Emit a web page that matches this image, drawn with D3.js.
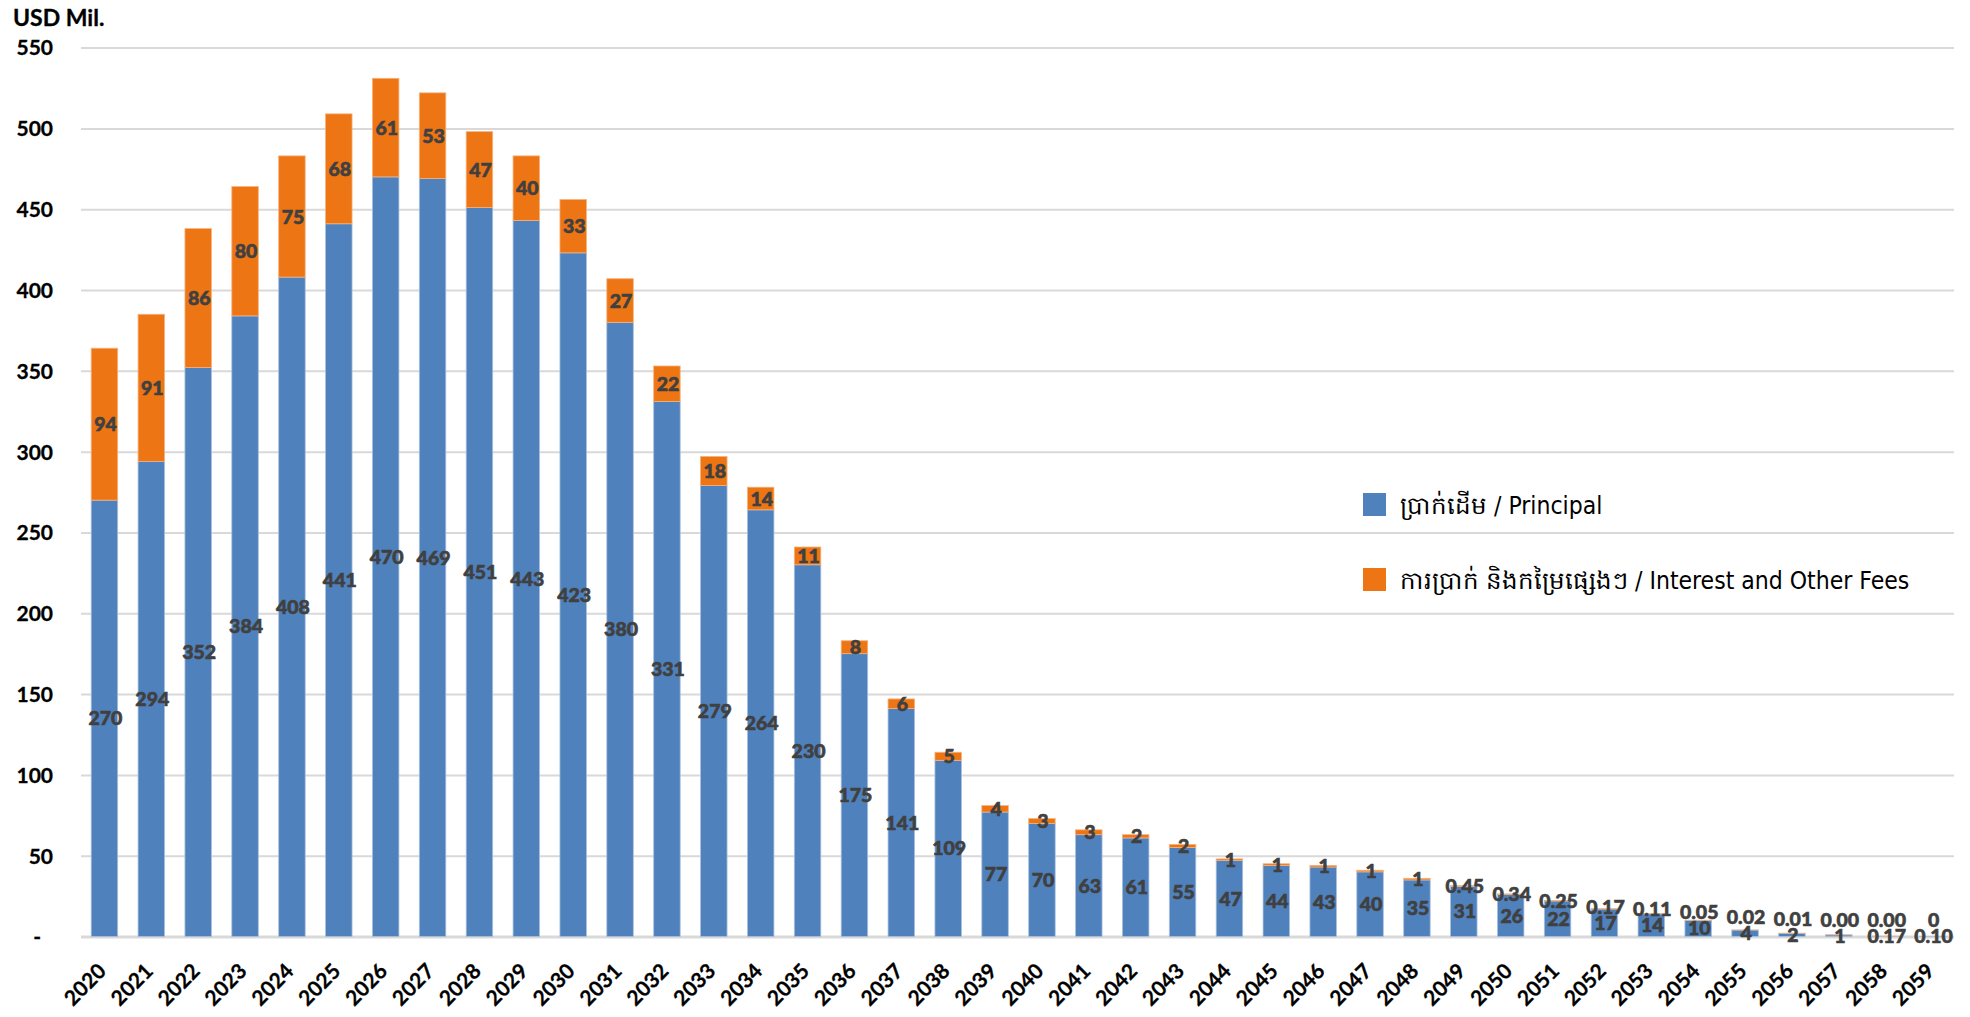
<!DOCTYPE html>
<html>
<head>
<meta charset="utf-8">
<script src="https://cdn.jsdelivr.net/npm/d3@7"></script>
<style>
  body { margin: 0; background: #fff; }
  .axis-label { font-family: Lato, "Open Sans", sans-serif; font-weight: bold; font-size: 21px; fill: #000; stroke: #000; stroke-width: 0.3px; }
  .bar-label { font-family: Lato, "Open Sans", sans-serif; font-weight: 900; font-size: 19.5px; fill: #404040; stroke: #404040; stroke-width: 0.6px; }
  .legend-label { font-family: "DejaVu Sans", sans-serif; font-stretch: condensed; font-size: 24.5px; fill: #000; }
</style>
</head>
<body>
<div id="chart"></div>
<script>
// values (USD Mil.)
const years = [
  "2020", "2021", "2022", "2023", "2024", "2025", "2026", "2027", "2028", "2029",
  "2030", "2031", "2032", "2033", "2034", "2035", "2036", "2037", "2038", "2039",
  "2040", "2041", "2042", "2043", "2044", "2045", "2046", "2047", "2048", "2049",
  "2050", "2051", "2052", "2053", "2054", "2055", "2056", "2057", "2058", "2059",
];
const principal = [
  270, 294, 352, 384, 408, 441, 470, 469, 451, 443,
  423, 380, 331, 279, 264, 230, 175, 141, 109, 77,
  70, 63, 61, 55, 47, 44, 43, 40, 35, 31,
  26, 22, 17, 14, 10, 4, 2, 1, 0.17, 0.10,
];
const interest = [
  94, 91, 86, 80, 75, 68, 61, 53, 47, 40,
  33, 27, 22, 18, 14, 11, 8, 6, 5, 4,
  3, 3, 2, 2, 1, 1, 1, 1, 1, 0.45,
  0.34, 0.25, 0.17, 0.11, 0.05, 0.02, 0.01, 0.004, 0.002, 0,
];
const yTicks = [0, 50, 100, 150, 200, 250, 300, 350, 400, 450, 500, 550];
const seriesNames = [
  "ប្រាក់ដើម / Principal",
  "ការប្រាក់ និងកម្រៃផ្សេងៗ / Interest and Other Fees",
];
const seriesColors = ["#4f81bd", "#ed7514"];
const seriesEdges = ["#a9c0de", "#f5b27d"];

class StackedBars {
  constructor(_config) {
    this.config = {
      parentElement: _config.parentElement,
      containerWidth: 1970,
      containerHeight: 1017,
      margin: { top: 47.6, right: 14, bottom: 80.5, left: 81 },
    };
    this.initVis();
  }

  initVis() {
    let vis = this;
    vis.config.width = vis.config.containerWidth - vis.config.margin.left - vis.config.margin.right;
    vis.config.height = vis.config.containerHeight - vis.config.margin.top - vis.config.margin.bottom;

    vis.svg = d3.select(vis.config.parentElement).append("svg")
      .attr("width", vis.config.containerWidth)
      .attr("height", vis.config.containerHeight);

    vis.chart = vis.svg.append("g")
      .attr("transform", `translate(${vis.config.margin.left},${vis.config.margin.top})`);

    vis.x = d3.scaleBand()
      .domain(years)
      .range([0, vis.config.width])
      .paddingInner(0.435)
      .paddingOuter(0.2175);

    vis.y = d3.scaleLinear()
      .domain([0, 550])
      .range([vis.config.height, 0]);

    // rows for the stack
    vis.rows = years.map((yr, i) => ({ year: yr, principal: principal[i], interest: interest[i] }));
    vis.stacked = d3.stack().keys(["principal", "interest"])(vis.rows);

    vis.renderVis();
  }

  renderVis() {
    let vis = this;
    const fmt = (v) => (v === 0 ? "0" : v >= 1 ? d3.format(".0f")(v) : d3.format(".2f")(v));

    // gridlines + y labels
    const yAxis = d3.axisLeft(vis.y)
      .tickValues(yTicks)
      .tickSizeInner(-vis.config.width + 2)
      .tickSizeOuter(0)
      .tickPadding(28)
      .tickFormat((d) => (d === 0 ? "-" : d));

    const yg = vis.chart.append("g").call(yAxis);
    yg.select(".domain").remove();
    yg.selectAll(".tick line")
      .attr("x1", 0)
      .attr("x2", vis.config.width - 2)
      .attr("stroke", "#d9d9d9")
      .attr("stroke-width", (d) => (d === 0 ? 3 : 2));
    yg.selectAll(".tick text")
      .attr("class", "axis-label")
      .attr("x", (d) => (d === 0 ? -40 : -28))
      .attr("dy", "0.35em");

    // bars
    const layers = vis.chart.selectAll(".layer")
      .data(vis.stacked)
      .join("g")
      .attr("class", "layer")
      .attr("fill", (d, i) => seriesColors[i])
      .attr("stroke", (d, i) => seriesEdges[i])
      .attr("stroke-width", 0.8);

    layers.selectAll("rect")
      .data((d) => d)
      .join("rect")
      .attr("x", (d) => vis.x(d.data.year))
      .attr("y", (d) => vis.y(d[1]))
      .attr("width", vis.x.bandwidth())
      .attr("height", (d) => vis.y(d[0]) - vis.y(d[1]));

    // data labels
    const principalY = (d) => vis.y(d.principal / 2);
    vis.chart.append("g").selectAll("text")
      .data(vis.rows)
      .join("text")
      .attr("class", "bar-label")
      .attr("text-anchor", "middle")
      .attr("dy", "0.36em")
      .attr("x", (d) => vis.x(d.year) + vis.x.bandwidth() / 2 + 1)
      .attr("y", principalY)
      .text((d) => fmt(d.principal));

    vis.chart.append("g").selectAll("text")
      .data(vis.rows)
      .join("text")
      .attr("class", "bar-label")
      .attr("text-anchor", "middle")
      .attr("dy", "0.36em")
      .attr("x", (d) => vis.x(d.year) + vis.x.bandwidth() / 2 + 1)
      // keep the interest label clear of the principal label on thin segments
      .attr("y", (d) => Math.min(vis.y(d.principal + d.interest / 2), principalY(d) - 16))
      .text((d) => fmt(d.interest));

    // x labels, rotated
    vis.chart.append("g").selectAll("text")
      .data(years)
      .join("text")
      .attr("class", "axis-label")
      .attr("text-anchor", "end")
      .attr("transform", (d) => `translate(${vis.x(d) + vis.x.bandwidth() / 2 + 3},${vis.config.height + 36}) rotate(-45)`)
      .text((d) => d);

    // y title
    vis.svg.append("text")
      .attr("class", "axis-label")
      .style("font-size", "23px")
      .attr("x", 13)
      .attr("y", 26)
      .text("USD Mil.");

    // legend
    const legend = vis.svg.append("g").attr("transform", "translate(1363,493)");
    const items = legend.selectAll("g")
      .data(seriesNames)
      .join("g")
      .attr("transform", (d, i) => `translate(0,${i * 75})`);
    items.append("rect")
      .attr("width", 23)
      .attr("height", 23)
      .attr("fill", (d, i) => seriesColors[i]);
    items.append("text")
      .attr("class", "legend-label")
      .attr("x", 37)
      .attr("y", 12)
      .attr("dy", "0.35em")
      .text((d) => d);
  }
}

new StackedBars({ parentElement: "#chart" });
</script>
</body>
</html>
